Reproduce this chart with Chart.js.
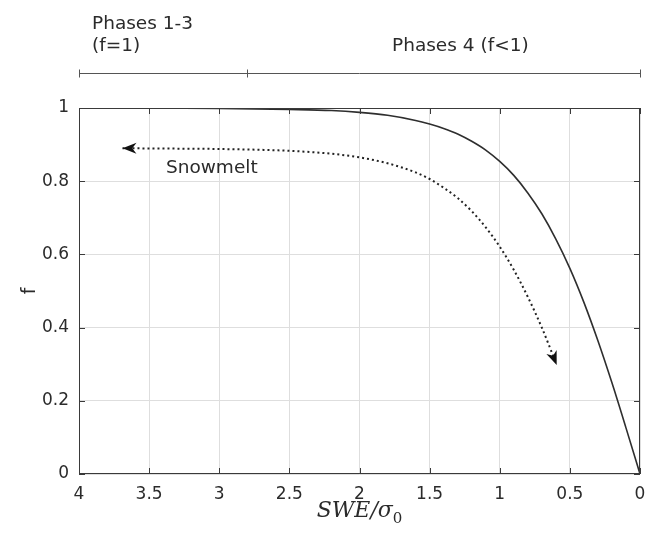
<!DOCTYPE html>
<html>
<head>
<meta charset="utf-8">
<script src="https://cdn.jsdelivr.net/npm/chart.js@4.4.1/dist/chart.umd.min.js"></script>
<style>
  html, body { margin: 0; padding: 0; background: #fff; }
  canvas { display: block; }
</style>
</head>
<body>
<canvas id="chart" width="646" height="533"></canvas>
<script>
// Depletion curve f vs SWE/sigma0
const curveX = [4, 3.5, 3, 2.5, 2.2, 2.0, 1.8, 1.6, 1.5, 1.4, 1.3, 1.2, 1.1, 1.0, 0.9, 0.8, 0.7, 0.6, 0.5, 0.4, 0.3, 0.2, 0.1, 0];
const curveF = [1.0, 1.0, 0.999, 0.996, 0.993, 0.988, 0.980, 0.966, 0.956, 0.944, 0.929, 0.909, 0.885, 0.854, 0.816, 0.768, 0.711, 0.642, 0.562, 0.469, 0.364, 0.249, 0.126, 0];

// Snowmelt path (dotted arrow)
const meltX = [3.69, 3.3, 3.0, 2.5, 2.2, 2.0, 1.8, 1.6, 1.5, 1.4, 1.3, 1.2, 1.1, 1.0, 0.9, 0.8, 0.7, 0.6];
const meltF = [0.89, 0.889, 0.888, 0.883, 0.875, 0.865, 0.849, 0.824, 0.806, 0.782, 0.754, 0.718, 0.674, 0.621, 0.558, 0.484, 0.400, 0.304];

const xTicks = [4, 3.5, 3, 2.5, 2, 1.5, 1, 0.5, 0];
const yTicks = [0, 0.2, 0.4, 0.6, 0.8, 1];

// phase bracket above the plot
const phaseBounds = [4, 2.8, 0];

const textColor = '#2b2b2b';
const labelFont = '18.5px "DejaVu Sans"';

function arrowHead(ctx, tipX, tipY, fromX, fromY) {
    const ang = Math.atan2(tipY - fromY, tipX - fromX);
    const len = 14, half = 5.5;
    ctx.save();
    ctx.translate(tipX, tipY);
    ctx.rotate(ang);
    ctx.beginPath();
    ctx.moveTo(0, 0);
    ctx.lineTo(-len, -half);
    ctx.lineTo(-len * 0.7, 0);
    ctx.lineTo(-len, half);
    ctx.closePath();
    ctx.fillStyle = '#111';
    ctx.fill();
    ctx.restore();
}

const decorations = {
    id: 'decorations',
    afterDatasetsDraw(chart) {
        const ctx = chart.ctx;
        const x = chart.scales.x, y = chart.scales.y;
        const a = chart.chartArea;

        // frame
        ctx.save();
        ctx.strokeStyle = '#3a3a3a';
        ctx.lineWidth = 1;
        ctx.strokeRect(a.left + 0.5, a.top + 0.5, a.right - a.left - 1, a.bottom - a.top - 1);

        // inward tick marks
        ctx.beginPath();
        xTicks.forEach(v => {
            const px = Math.round(x.getPixelForValue(v)) + 0.5;
            ctx.moveTo(px, a.bottom); ctx.lineTo(px, a.bottom - 6);
            ctx.moveTo(px, a.top); ctx.lineTo(px, a.top + 6);
        });
        yTicks.forEach(v => {
            const py = Math.round(y.getPixelForValue(v)) + 0.5;
            ctx.moveTo(a.left, py); ctx.lineTo(a.left + 6, py);
            ctx.moveTo(a.right, py); ctx.lineTo(a.right - 6, py);
        });
        ctx.stroke();

        // arrowheads on snowmelt path
        const n = meltX.length;
        arrowHead(ctx, x.getPixelForValue(meltX[0]), y.getPixelForValue(meltF[0]),
            x.getPixelForValue(meltX[1]), y.getPixelForValue(meltF[1]));
        arrowHead(ctx, x.getPixelForValue(0.594), y.getPixelForValue(0.298),
            x.getPixelForValue(meltX[n - 2]), y.getPixelForValue(meltF[n - 2]));

        // Snowmelt label
        ctx.fillStyle = textColor;
        ctx.font = labelFont;
        ctx.textBaseline = 'middle';
        ctx.textAlign = 'left';
        ctx.fillText('Snowmelt', x.getPixelForValue(3.38), 168);

        // phase bracket
        const by = 73.5;
        ctx.strokeStyle = '#555';
        ctx.beginPath();
        ctx.moveTo(x.getPixelForValue(phaseBounds[0]), by);
        ctx.lineTo(x.getPixelForValue(phaseBounds[2]), by);
        phaseBounds.forEach(v => {
            const px = Math.round(x.getPixelForValue(v)) + 0.5;
            ctx.moveTo(px, by - 4); ctx.lineTo(px, by + 4);
        });
        ctx.stroke();
        ctx.fillText('Phases 1-3', 92, 24);
        ctx.fillText('(f=1)', 92, 46);
        ctx.fillText('Phases 4 (f<1)', 392, 46);

        // axis titles
        ctx.save();
        ctx.translate(30, (a.top + a.bottom) / 2);
        ctx.rotate(-Math.PI / 2);
        ctx.textAlign = 'center';
        ctx.font = '19px "DejaVu Sans"';
        ctx.fillText('f', 0, 0);
        ctx.restore();

        ctx.font = 'italic 22px "DejaVu Serif"';
        ctx.textAlign = 'left';
        const main = 'SWE/σ';
        const w = ctx.measureText(main).width;
        ctx.font = '15px "DejaVu Serif"';
        const ws = ctx.measureText('0').width;
        const cx = (a.left + a.right) / 2;
        const sx = cx - (w + ws) / 2;
        ctx.font = 'italic 22px "DejaVu Serif"';
        ctx.fillText(main, sx, 511);
        ctx.font = '15px "DejaVu Serif"';
        ctx.fillText('0', sx + w, 519);
        ctx.restore();
    }
};

new Chart(document.getElementById('chart').getContext('2d'), {
    type: 'line',
    data: {
        datasets: [{
            label: 'f',
            data: curveX.map((v, i) => ({ x: v, y: curveF[i] })),
            borderColor: '#2e2e2e',
            borderWidth: 1.6,
            pointRadius: 0,
            cubicInterpolationMode: 'monotone',
            fill: false
        }, {
            label: 'Snowmelt',
            data: meltX.map((v, i) => ({ x: v, y: meltF[i] })),
            borderColor: '#222',
            borderWidth: 2,
            borderDash: [2, 3],
            pointRadius: 0,
            cubicInterpolationMode: 'monotone',
            fill: false
        }]
    },
    options: {
        responsive: false,
        animation: false,
        layout: { padding: { left: 0, top: 108, right: 6, bottom: 0 } },
        plugins: { legend: { display: false }, tooltip: { enabled: false } },
        scales: {
            x: {
                type: 'linear',
                reverse: true,
                min: 0, max: 4,
                afterFit: s => { s.height = 59; s.paddingLeft = 0; s.paddingRight = 0; },
                afterBuildTicks: s => { s.ticks = xTicks.map(v => ({ value: v })); },
                grid: { color: '#dedede', drawTicks: false },
                border: { display: false },
                ticks: { color: textColor, font: { family: 'DejaVu Sans', size: 17 }, padding: 10, maxRotation: 0,
                    callback: v => String(v) }
            },
            y: {
                min: 0, max: 1,
                afterFit: s => { s.width = 79; s.paddingTop = 0; s.paddingBottom = 0; },
                afterBuildTicks: s => { s.ticks = yTicks.map(v => ({ value: v })); },
                grid: { color: '#dedede', drawTicks: false },
                border: { display: false },
                ticks: { color: textColor, font: { family: 'DejaVu Sans', size: 17 }, padding: 10,
                    callback: v => String(v) }
            }
        }
    },
    plugins: [decorations]
});
</script>
</body>
</html>
